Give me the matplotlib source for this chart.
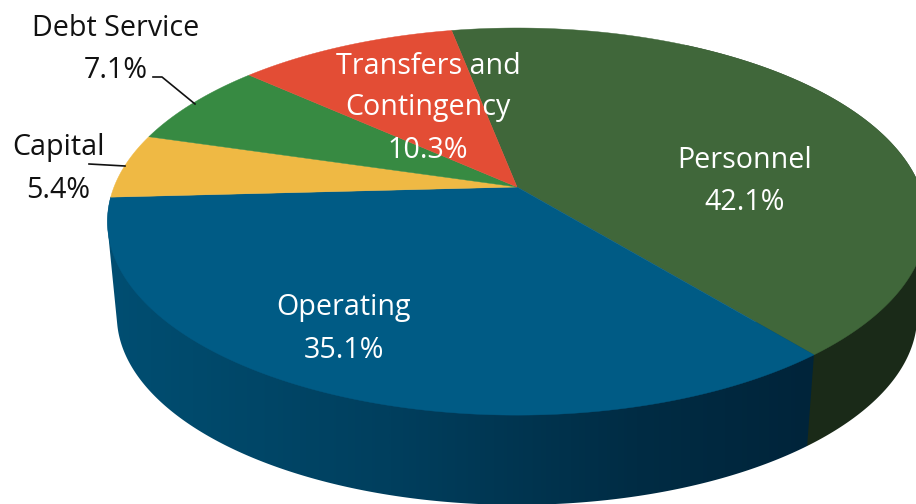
import numpy as np
import matplotlib
matplotlib.use("Agg")
import matplotlib.pyplot as plt
from matplotlib.colors import LinearSegmentedColormap
from matplotlib.patches import Polygon

categories = ["Personnel", "Operating", "Capital", "Debt Service", "Transfers and\nContingency"]
values = [42.1, 35.1, 5.4, 7.1, 10.3]
value_labels = ["42.1%", "35.1%", "5.4%", "7.1%", "10.3%"]
colors = ["#40673A", "#005B85", "#EFB944", "#378A42", "#E34D35"]
text_colors = ["white", "white", "#111111", "#111111", "white"]
label_xy = [(745, 161), (344, 308), (58, 148), (116, 29), (428, 66)]

plt.rcParams["font.family"] = ["Open Sans", "DejaVu Sans"]
fig = plt.figure(figsize=(9.16, 5.04), dpi=100)
ax = fig.add_axes([0, 0, 1, 1])
ax.set_xlim(0, 916)
ax.set_ylim(504, 0)
ax.axis("off")

# perspective projection of the pie disc
CX, CY, A, B, K = 517, 187, 403, 187.4, 0.1785
BOTTOM_SCALE, BOTTOM_DROP = 0.977, 95
START = -11.0


def project(theta_deg, scale=1.0, drop=0.0):
    t = np.radians(theta_deg)
    u, v = np.sin(t), np.cos(t)
    w = 1 + K * v
    return CX + scale * A * u / w, CY + drop - scale * B * v / w


edges = START + 360 * np.cumsum([0] + values) / sum(values)

side_blue = LinearSegmentedColormap.from_list(
    "side", [(0, "#004E72"), (0.12, "#004A6C"), (0.4, "#003F5E"), (0.75, "#002C44"), (1, "#00243A")]
)


def convex_hull(points):
    pts = sorted(map(tuple, points))

    def half(seq):
        out = []
        for p in seq:
            while len(out) > 1 and ((out[-1][0] - out[-2][0]) * (p[1] - out[-2][1])
                                    - (out[-1][1] - out[-2][1]) * (p[0] - out[-2][0])) <= 0:
                out.pop()
            out.append(p)
        return out[:-1]

    return np.array(half(pts) + half(pts[::-1]))


def side_polygon(a0, a1):
    th = np.linspace(a0, a1, 400)
    xt, yt = project(th)
    xb, yb = project(th, BOTTOM_SCALE, BOTTOM_DROP)
    return convex_hull(np.column_stack([np.r_[xt, xb], np.r_[yt, yb]]))


# Personnel side
ax.add_patch(Polygon(side_polygon(edges[0] + 40, edges[1]), closed=True,
                     facecolor="#1A2A18", edgecolor="none", zorder=2))

# Operating side: horizontal gradient clipped to the side shape
poly = side_polygon(edges[1], edges[2])
x0, x1 = poly[:, 0].min(), poly[:, 0].max()
grad = np.linspace(0, 1, 512).reshape(1, -1)
im = ax.imshow(grad, cmap=side_blue, extent=(x0, x1, 504, 0), aspect="auto", zorder=2,
               interpolation="bilinear")
clip = Polygon(poly, closed=True, transform=ax.transData, facecolor="none", edgecolor="none")
ax.add_patch(clip)
im.set_clip_path(clip)
ax.set_xlim(0, 916)
ax.set_ylim(504, 0)

for i, (val, col) in enumerate(zip(values, colors)):
    th = np.linspace(edges[i], edges[i + 1], 200)
    x, y = project(th)
    ax.fill(np.r_[CX, x], np.r_[CY, y], facecolor=col, edgecolor=col, linewidth=0.3, zorder=3)

ax.plot([153, 162, 195], [77, 77, 104], color="#111111", lw=1.2, zorder=4)
ax.plot([89, 125], [164, 166], color="#111111", lw=1.2, zorder=4)

for cat, vl, (x, y), tc in zip(categories, value_labels, label_xy, text_colors):
    lines = cat.split("\n") + [vl]
    for j, line in enumerate(lines):
        ax.text(x, y + j * 42, line, color=tc, fontsize=20.6, ha="center", va="center", zorder=5)

fig.savefig("out.png", dpi=100)
